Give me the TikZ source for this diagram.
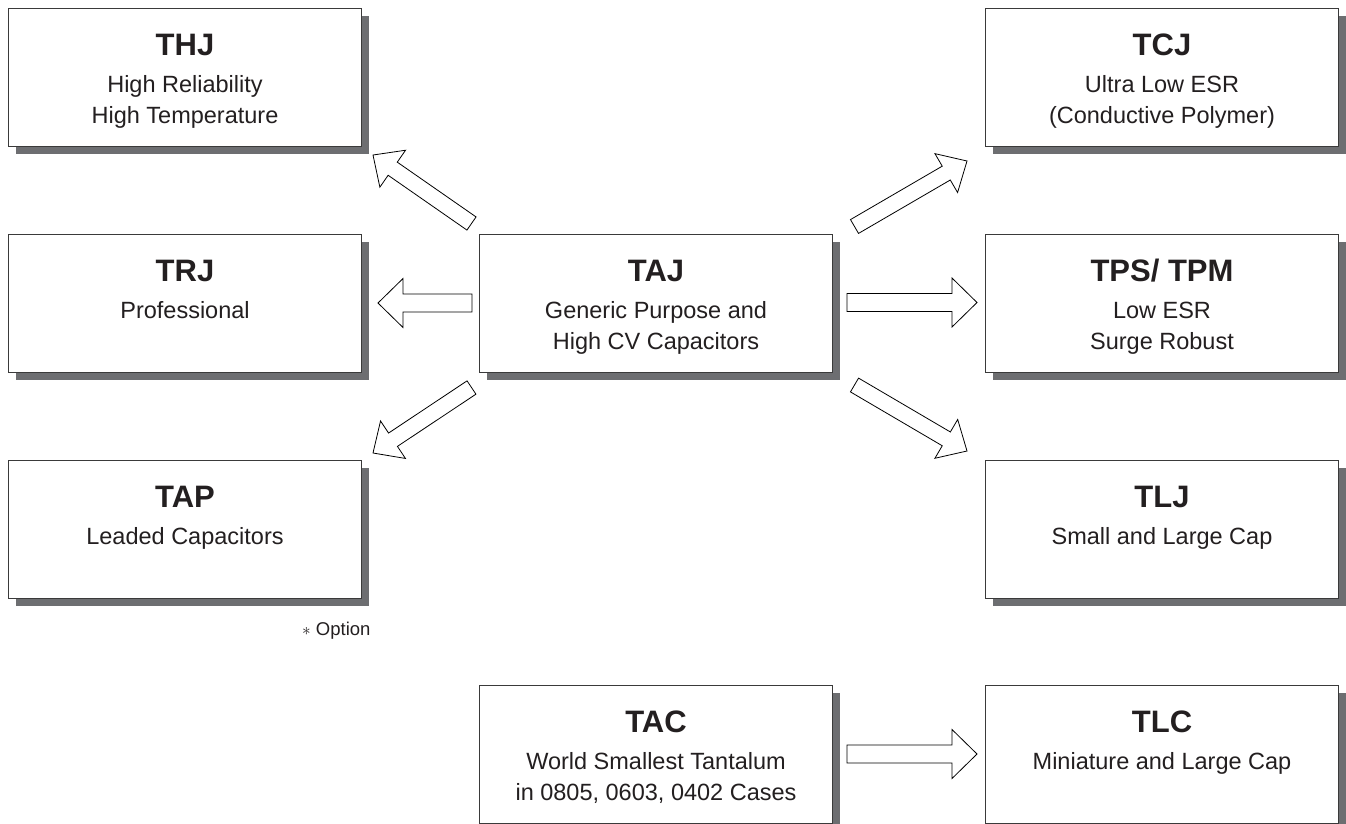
\documentclass[tikz,border=0pt]{standalone}
\usepackage{fontspec}
\setmainfont{Liberation Sans}
\usetikzlibrary{calc,shadows}
\definecolor{shgray}{HTML}{6D6E71}
\definecolor{ink}{HTML}{231F20}
\definecolor{edgec}{HTML}{3A3A3A}
\tikzset{
 box/.style={draw=edgec, line width=1pt, fill=white, minimum width=353pt, minimum height=138pt,
   anchor=north west, inner sep=0pt,
   drop shadow={shadow xshift=7pt, shadow yshift=-7pt, fill=shgray, opacity=1}},
 ttl/.style={anchor=base, inner sep=0pt, font=\fontsize{31}{36}\selectfont\bfseries, text=ink},
 txt/.style={anchor=base, inner sep=0pt, font=\fontsize{23.5}{28}\selectfont, text=ink},
 barrow/.style={draw=black, line width=0.8pt, fill=white, line join=miter},
 note/.style={anchor=base west, inner sep=0pt, font=\fontsize{18.5}{22}\selectfont, text=ink},
}
% #1 tail, #2 tip, #3 shaft half width, #4 head half width, #5 head length
\newcommand\blockarrow[5]{%
  \coordinate (ba-h) at ($(#2)!#5!(#1)$);
  \draw[barrow] ($(#1)!#3!90:(#2)$) -- ($(ba-h)!#3!-90:(#1)$) -- ($(ba-h)!#4!-90:(#1)$)
    -- (#2) -- ($(ba-h)!#4!90:(#1)$) -- ($(ba-h)!#3!90:(#1)$) -- ($(#1)!#3!-90:(#2)$) -- cycle;}
\newcommand\boxtext[4]{%
  \node[ttl] (#1-t) at ($(#1.north)+(0,47)$) {#2};
  \node[txt] (#1-a) at ($(#1.north)+(0,84)$) {#3};
  \node[txt] (#1-b) at ($(#1.north)+(0,115)$) {#4};}
\begin{document}
\begin{tikzpicture}[x=1pt,y=-1pt]
\useasboundingbox (0,0) rectangle (1346,823);
\fill[white] (0,0) rectangle (1346,823);
% boxes
\node[box] (thj) at (8,8) {};
\node[box] (tcj) at (985,8) {};
\node[box] (trj) at (8,234) {};
\node[box] (taj) at (479,234) {};
\node[box] (tps) at (985,234) {};
\node[box] (tap) at (8,460) {};
\node[box] (tlj) at (985,460) {};
\node[box] (tac) at (479,685) {};
\node[box] (tlc) at (985,685) {};
% texts
\boxtext{thj}{THJ}{High Reliability}{High Temperature}
\boxtext{tcj}{TCJ}{Ultra Low ESR}{(Conductive Polymer)}
\boxtext{trj}{TRJ}{Professional}{}
\boxtext{taj}{TAJ}{Generic Purpose and}{High CV Capacitors}
\boxtext{tps}{TPS/ TPM}{Low ESR}{Surge Robust}
\boxtext{tap}{TAP}{Leaded Capacitors}{}
\boxtext{tlj}{TLJ}{Small and Large Cap}{}
\boxtext{tac}{TAC}{World Smallest Tantalum}{in 0805, 0603, 0402 Cases}
\boxtext{tlc}{TLC}{Miniature and Large Cap}{}
\node[note] (opt) at (302,635) {$\ast$ Option};
% arrow end points
\coordinate (a1s) at (471.5,223.5); \coordinate (a1e) at (373,155);
\coordinate (a2s) at (472,303);     \coordinate (a2e) at (378,303);
\coordinate (a3s) at (471.5,387.5); \coordinate (a3e) at (373,453);
\coordinate (a4s) at (854.5,226.5); \coordinate (a4e) at (967,161);
\coordinate (a5s) at (847,302.5);   \coordinate (a5e) at (977,302.5);
\coordinate (a6s) at (854.5,385);   \coordinate (a6e) at (967,451);
\coordinate (a7s) at (847,754);     \coordinate (a7e) at (977,754);
\blockarrow{a1s}{a1e}{8pt}{22.5pt}{24pt}
\blockarrow{a2s}{a2e}{9pt}{24.5pt}{25pt}
\blockarrow{a3s}{a3e}{8pt}{22.5pt}{24pt}
\blockarrow{a4s}{a4e}{8pt}{22.5pt}{24pt}
\blockarrow{a5s}{a5e}{9pt}{24.5pt}{25pt}
\blockarrow{a6s}{a6e}{8pt}{22.5pt}{24pt}
\blockarrow{a7s}{a7e}{9pt}{24.5pt}{25pt}
\end{tikzpicture}
\end{document}
